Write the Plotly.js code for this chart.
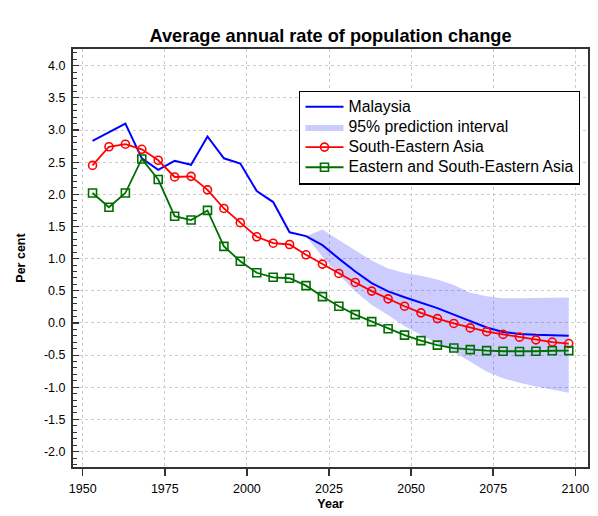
<!DOCTYPE html>
<html>
<head>
<meta charset="utf-8">
<script src="https://cdn.plot.ly/plotly-3.0.1.min.js"></script>
<style>
html,body{margin:0;padding:0;background:#fff;}
#chart{width:598px;height:516px;}
</style>
</head>
<body>
<div id="chart"></div>
<script>
var years = [1953,1958,1963,1968,1973,1978,1983,1988,1993,1998,2003,2008,2013,2018,2023,2028,2033,2038,2043,2048,2053,2058,2063,2068,2073,2078,2083,2088,2093,2098];
var malaysia = [2.83,2.96,3.10,2.56,2.38,2.52,2.46,2.90,2.56,2.48,2.05,1.88,1.41,1.35,1.21,1.00,0.80,0.62,0.49,0.40,0.32,0.23,0.13,0.03,-0.07,-0.14,-0.17,-0.185,-0.195,-0.20];
var southEasternAsia = [2.45,2.74,2.78,2.70,2.53,2.27,2.28,2.07,1.78,1.56,1.34,1.24,1.22,1.06,0.915,0.77,0.63,0.495,0.375,0.26,0.157,0.068,-0.008,-0.077,-0.135,-0.178,-0.221,-0.263,-0.297,-0.32];
var easternSouthEasternAsia = [2.02,1.80,2.02,2.55,2.23,1.66,1.60,1.75,1.19,0.96,0.78,0.71,0.695,0.58,0.41,0.26,0.13,0.02,-0.09,-0.19,-0.275,-0.345,-0.39,-0.415,-0.43,-0.44,-0.445,-0.44,-0.432,-0.43];
var bandYears = [2018,2023,2028,2033,2038,2043,2048,2053,2058,2063,2068,2073,2078,2083,2088,2093,2098];
var bandUpper = [1.35,1.455,1.29,1.125,0.97,0.845,0.775,0.735,0.675,0.59,0.47,0.415,0.385,0.385,0.39,0.395,0.395];
var bandLower = [1.35,1.03,0.75,0.49,0.28,0.125,-0.05,-0.185,-0.32,-0.45,-0.60,-0.755,-0.86,-0.93,-0.99,-1.04,-1.085];
var xTickVals = [1950,1975,2000,2025,2050,2075,2100];
var xTickText = ["1950","1975","2000","2025","2050","2075","2100"];
var yTickVals = [4.0,3.5,3.0,2.5,2.0,1.5,1.0,0.5,0.0,-0.5,-1.0,-1.5,-2.0];
var yTickText = ["4.0","3.5","3.0","2.5","2.0","1.5","1.0","0.5","0.0","-0.5","-1.0","-1.5","-2.0"];
var seriesNames = ["Malaysia","95% prediction interval","South-Eastern Asia","Eastern and South-Eastern Asia"];

var FONT = "Liberation Sans, Arial, sans-serif";
function legendLabel(s){ return '<span style="font-size:15.8px">' + s + '</span>'; }

var bandX = bandYears.concat(bandYears.slice().reverse());
var bandY = bandUpper.concat(bandLower.slice().reverse());

var traces = [
  {x: bandX, y: bandY, type:'scatter', mode:'lines', fill:'toself',
   fillcolor:'rgba(0,0,255,0.2)', line:{width:0, color:'rgba(0,0,255,0)'},
   name: legendLabel(seriesNames[1]), legendrank: 2, hoverinfo:'skip'},
  {x: years, y: malaysia, type:'scatter', mode:'lines',
   line:{color:'#0000ff', width:2}, name: legendLabel(seriesNames[0]), legendrank: 1},
  {x: years, y: southEasternAsia, type:'scatter', mode:'lines+markers',
   line:{color:'#ff0000', width:1.8},
   marker:{symbol:'circle-open', size:8, color:'#ff0000', line:{width:1.6}},
   name: legendLabel(seriesNames[2]), legendrank: 3},
  {x: years, y: easternSouthEasternAsia, type:'scatter', mode:'lines+markers',
   line:{color:'#006e00', width:1.8},
   marker:{symbol:'square-open', size:8, color:'#006e00', line:{width:1.6}},
   name: legendLabel(seriesNames[3]), legendrank: 4}
];

var layout = {
  width: 598, height: 516,
  margin: {l:73, r:10, t:49, b:49, pad:0},
  paper_bgcolor:'#ffffff', plot_bgcolor:'#ffffff',
  font: {family: FONT, color:'#000', size:12.5},
  title: {text:'<b>Average annual rate of population change</b>',
          font:{family:FONT, size:18.2, color:'#000'},
          x:0.5, xref:'paper', xanchor:'center', y: 1-36/516, yref:'container', yanchor:'middle'},
  showlegend: true,
  legend: {x:0.4394, y:0.9007, xanchor:'left', yanchor:'top',
           bordercolor:'#000', borderwidth:1.2, bgcolor:'#ffffff',
           font:{family:FONT, size:13.2, color:'#000'},
           itemwidth:38, tracegroupgap:0},
  xaxis: {
    range:[1947.05, 2103.86], tickmode:'array', tickvals:xTickVals, ticktext:xTickText,
    ticks:'outside', ticklen:7, tickwidth:1.5, tickcolor:'#333',
    showline:true, linecolor:'#333', linewidth:2, mirror:true,
    showgrid:true, gridcolor:'#cccccc', gridwidth:1, griddash:'dot',
    zeroline:false, ticklabelstandoff:2,
    tickfont:{family:FONT, size:12.5, color:'#000'},
    title:{text:'<b>Year</b>', font:{family:FONT, size:12.5, color:'#000'}, standoff:4}
  },
  yaxis: {
    range:[-2.24, 4.26], tickmode:'array', tickvals:yTickVals, ticktext:yTickText,
    ticks:'inside', ticklen:6, tickwidth:1.2, tickcolor:'#333',
    minor:{tickmode:'linear', tick0:0, dtick:0.1, ticks:'inside', ticklen:4, tickcolor:'#333', tickwidth:1, showgrid:false},
    showline:true, linecolor:'#333', linewidth:2, mirror:true,
    showgrid:true, gridcolor:'#cccccc', gridwidth:1, griddash:'dot',
    zeroline:false, ticklabelstandoff:3,
    tickfont:{family:FONT, size:12.5, color:'#000'},
    title:{text:'<b>Per cent</b>', font:{family:FONT, size:12.5, color:'#000'}, standoff:16}
  }
};

Plotly.newPlot('chart', traces, layout, {staticPlot:true, displayModeBar:false});
</script>
</body>
</html>
